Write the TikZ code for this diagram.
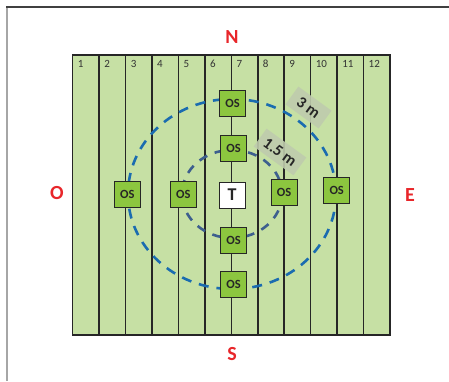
\documentclass[tikz,border=0pt]{standalone}
\usepackage{fontspec}
\setmainfont{Carlito}
\definecolor{fieldgreen}{HTML}{C6E0A4}
\definecolor{osgreen}{HTML}{8CC63F}
\definecolor{outerblue}{HTML}{1A6CB0}
\definecolor{innerblue}{HTML}{3D5F8E}
\definecolor{lblfill}{HTML}{BFCCAD}
\definecolor{dirred}{HTML}{E8262A}
\tikzset{
  osbox/.style={draw=black!85, line width=0.9pt, fill=osgreen, minimum width=26pt, minimum height=26pt, inner sep=0pt, font=\fontsize{12.5}{12.5}\selectfont\bfseries, text=black!85},
  tbox/.style={draw=black!85, line width=0.9pt, fill=white, minimum width=26pt, minimum height=26pt, inner sep=0pt, font=\fontsize{18}{18}\selectfont\bfseries, text=black!85},
  dirlbl/.style={font=\fontsize{20}{20}\selectfont\bfseries, text=dirred},
  distlbl/.style={fill=lblfill, fill opacity=0.9, text opacity=1, inner xsep=6pt, inner ysep=3pt, minimum height=22pt, minimum width=41pt, font=\fontsize{16}{16}\selectfont\bfseries, text=black!85, rotate=-36},
  colnum/.style={anchor=north west, font=\fontsize{11}{11}\selectfont, text=black!80, inner sep=0pt},
  colline/.style={draw=black!85, line width=1.5pt}
}
\begin{document}
\begin{tikzpicture}[x=1pt,y=-1pt]
\useasboundingbox (0,0) rectangle (449,381);
% outer frame
\draw[gray!70, line width=1.5pt] (7,381) -- (7,7.5);
\draw[black!75, line width=1.2pt] (6.3,7) -- (449,7);
% field
\fill[fieldgreen] (72.7,55) rectangle (390,335);
\foreach \i in {1,...,11}{
  \draw[colline] ({72.7+\i*26.44},55) -- ({72.7+\i*26.44},335);
}
\foreach \i in {1,...,12}{
  \node[colnum] (n\i) at ({72.7+(\i-1)*26.44+5},60) {\i};
}
\draw[colline] (72.7,55) rectangle (390,335);
% center
\coordinate (c) at (232,194);
\draw[outerblue, line width=2.6pt, dash pattern=on 10pt off 8pt] (c) ellipse [x radius=104, y radius=95];
\draw[innerblue, line width=2.6pt, dash pattern=on 9pt off 8pt] (c) ellipse [x radius=50, y radius=44];
% distance labels
\node[distlbl] (l3) at (308.5,107.5) {3 m};
\node[distlbl] (l15) at (280,152) {1.5 m};
% boxes
\node[tbox] (T) at (232,195) {T};
\node[osbox] (os1) at (232.5,103) {OS};
\node[osbox] (os2) at (233.5,148.5) {OS};
\node[osbox] (os3) at (233.5,240) {OS};
\node[osbox] (os4) at (233.5,284.5) {OS};
\node[osbox] (os5) at (127.3,194.3) {OS};
\node[osbox] (os6) at (183.3,194.3) {OS};
\node[osbox] (os7) at (284,192.7) {OS};
\node[osbox] (os8) at (336.7,190.5) {OS};
% directions
\node[dirlbl] (N) at (232,37) {N};
\node[dirlbl] (S) at (232,354) {S};
\node[dirlbl] (O) at (57,193) {O};
\node[dirlbl] (E) at (410,195) {E};
\end{tikzpicture}
\end{document}
